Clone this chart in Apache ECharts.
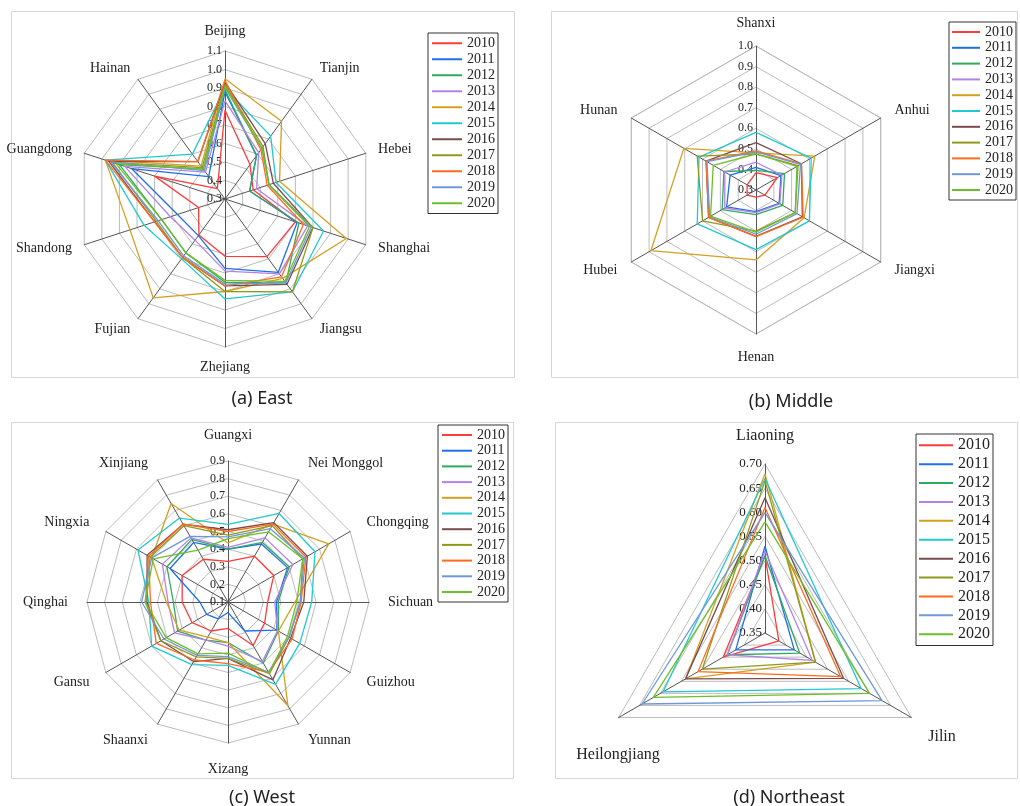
<!DOCTYPE html>
<html><head><meta charset="utf-8">
<script src="https://cdn.jsdelivr.net/npm/echarts@6/dist/echarts.min.js"></script>
<style>html,body{margin:0;padding:0;background:#fff}#c{width:1020px;height:806px}</style>
</head><body><div id="c"></div>
<script>
// ---------------- data ----------------
const years = ['2010','2011','2012','2013','2014','2015','2016','2017','2018','2019','2020'];
const colors = ['#ff3b3b','#1f6fe8','#2eaa5e','#b283e6','#d4a020','#22c8d0','#7a4c4c','#8f9a1c','#ff6a1f','#6e98d8','#6cbf2a'];

// (a) East — clockwise from top
const eastNames = ['Beijing','Tianjin','Hebei','Shanghai','Jiangsu','Zhejiang','Fujian','Shandong','Guangdong','Hainan'];
const east2010 = [0.78,0.53,0.46,0.70,0.685,0.61,0.54,0.45,0.70,0.37];
const east2011 = [0.88,0.59,0.44,0.71,0.79,0.675,0.545,0.57,0.83,0.45];
const east2012 = [0.89,0.59,0.44,0.72,0.86,0.75,0.66,0.66,0.90,0.50];
const east2013 = [0.83,0.61,0.48,0.77,0.80,0.69,0.575,0.61,0.87,0.48];
const east2014 = [0.95,0.82,0.61,0.99,0.83,0.80,0.96,0.84,0.98,0.52];
const east2015 = [0.90,0.72,0.59,0.86,0.92,0.84,0.70,0.76,0.98,0.60];
const east2016 = [0.93,0.67,0.575,0.80,0.87,0.77,0.69,0.70,0.96,0.55];
const east2017 = [0.92,0.65,0.55,0.80,0.92,0.80,0.69,0.69,0.94,0.51];
const east2018 = [0.94,0.63,0.54,0.745,0.82,0.77,0.69,0.70,0.98,0.55];
const east2019 = [0.90,0.64,0.55,0.79,0.86,0.76,0.68,0.68,0.95,0.49];
const east2020 = [0.91,0.64,0.55,0.78,0.85,0.74,0.66,0.66,0.92,0.50];

// (b) Middle
const midNames = ['Shanxi','Anhui','Jiangxi','Henan','Hubei','Hunan'];
const mid2010 = [0.385,0.42,0.35,0.335,0.35,0.35];
const mid2011 = [0.41,0.44,0.43,0.405,0.465,0.445];
const mid2012 = [0.395,0.46,0.45,0.42,0.49,0.48];
const mid2013 = [0.435,0.445,0.434,0.41,0.475,0.475];
const mid2014 = [0.48,0.63,0.57,0.64,0.89,0.705];
const mid2015 = [0.58,0.61,0.60,0.59,0.63,0.62];
const mid2016 = [0.53,0.555,0.56,0.525,0.566,0.58];
const mid2017 = [0.475,0.536,0.52,0.50,0.60,0.63];
const mid2018 = [0.49,0.555,0.565,0.527,0.566,0.58];
const mid2019 = [0.485,0.55,0.53,0.515,0.56,0.575];
const mid2020 = [0.475,0.53,0.52,0.505,0.555,0.54];

// (c) West
const westNames = ['Guangxi','Nei Monggol','Chongqing','Sichuan','Guizhou','Yunnan','Xizang','Shaanxi','Gansu','Qinghai','Ningxia','Xinjiang'];
const west2010 = [0.33,0.40,0.40,0.325,0.34,0.385,0.25,0.29,0.335,0.36,0.40,0.38];
const west2011 = [0.40,0.48,0.49,0.375,0.42,0.29,0.16,0.21,0.24,0.26,0.48,0.49];
const west2012 = [0.40,0.49,0.50,0.385,0.43,0.50,0.33,0.35,0.43,0.41,0.50,0.51];
const west2013 = [0.41,0.52,0.525,0.365,0.425,0.49,0.35,0.35,0.45,0.44,0.53,0.52];
const west2014 = [0.435,0.61,0.76,0.48,0.43,0.78,0.33,0.33,0.42,0.45,0.60,0.745];
const west2015 = [0.54,0.68,0.67,0.575,0.57,0.64,0.46,0.51,0.60,0.55,0.69,0.65];
const west2016 = [0.51,0.62,0.62,0.53,0.51,0.61,0.42,0.49,0.54,0.56,0.63,0.61];
const west2017 = [0.48,0.60,0.59,0.51,0.50,0.57,0.42,0.46,0.54,0.57,0.61,0.60];
const west2018 = [0.50,0.61,0.61,0.515,0.52,0.56,0.45,0.48,0.57,0.54,0.62,0.61];
const west2019 = [0.47,0.58,0.60,0.51,0.50,0.56,0.41,0.45,0.52,0.59,0.60,0.53];
const west2020 = [0.46,0.56,0.59,0.49,0.49,0.565,0.39,0.44,0.505,0.57,0.59,0.44];

// (d) Northeast
const neNames = ['Liaoning','Jilin','Heilongjiang'];
const ne2010 = [0.51,0.383,0.45];
const ne2011 = [0.53,0.42,0.42];
const ne2012 = [0.51,0.433,0.44];
const ne2013 = [0.52,0.463,0.44];
const ne2014 = [0.68,0.471,0.54];
const ne2015 = [0.67,0.58,0.594];
const ne2016 = [0.63,0.538,0.54];
const ne2017 = [0.665,0.471,0.50];
const ne2018 = [0.61,0.531,0.51];
const ne2019 = [0.60,0.63,0.644];
const ne2020 = [0.58,0.60,0.617];

const eastValues = [east2010,east2011,east2012,east2013,east2014,east2015,east2016,east2017,east2018,east2019,east2020];
const midValues = [mid2010,mid2011,mid2012,mid2013,mid2014,mid2015,mid2016,mid2017,mid2018,mid2019,mid2020];
const westValues = [west2010,west2011,west2012,west2013,west2014,west2015,west2016,west2017,west2018,west2019,west2020];
const neValues = [ne2010,ne2011,ne2012,ne2013,ne2014,ne2015,ne2016,ne2017,ne2018,ne2019,ne2020];

// ---------------- build ----------------
const SERIF = '"Liberation Serif","DejaVu Serif",serif';
const ccw = a => [a[0]].concat(a.slice(1).reverse()); // ECharts places indicators counter-clockwise

function makeRadar(cfg) {
  const ind = ccw(cfg.names).map(n => ({ name: n, min: cfg.min, max: cfg.max }));
  ind[0].axisLabel = { show: true };
  return {
    center: cfg.center, radius: cfg.radius, startAngle: 90, shape: 'polygon',
    splitNumber: cfg.split, indicator: ind, nameGap: cfg.nameGap,
    axisName: { show: cfg.showNames !== false, color: '#222', fontFamily: SERIF, fontSize: cfg.nameSize },
    splitLine: { lineStyle: { color: '#bcbcbc', width: 1 } },
    splitArea: { show: false },
    axisLine: { lineStyle: { color: '#555', width: 1 } },
    axisTick: { show: false },
    axisLabel: { show: false, color: '#222', fontFamily: SERIF, fontSize: cfg.labelSize, margin: 3,
      formatter: v => Number(v).toFixed(cfg.dec) }
  };
}
function makeSeries(idx, values) {
  return {
    type: 'radar', radarIndex: idx, symbol: 'none', silent: true,
    data: years.map((y, i) => ({
      name: y, value: ccw(values[i]),
      lineStyle: { color: colors[i], width: 1.3 },
      itemStyle: { color: colors[i] }
    }))
  };
}
function makeLegend(cfg) {
  return {
    orient: 'vertical', left: cfg.left, top: cfg.top, selectedMode: false,
    data: years.map((y, i) => ({ name: y, icon: 'rect', itemStyle: { color: colors[i], borderWidth: 0 } })),
    itemWidth: cfg.itemWidth, itemHeight: 2, itemGap: cfg.gap, padding: cfg.padding,
    borderColor: '#333', borderWidth: 1, backgroundColor: '#fff',
    textStyle: { fontFamily: SERIF, fontSize: cfg.fontSize, lineHeight: cfg.lineHeight, color: '#222' }
  };
}
function caption(text, x, y) {
  return { text: text, left: x, top: y, textAlign: 'center', padding: 0,
    textStyle: { fontFamily: '"Noto Sans","Open Sans",sans-serif', fontSize: 18, fontWeight: 'normal', color: '#222' } };
}
function panel(x, y, w, h) {
  return { type: 'rect', silent: true, z: -1, shape: { x: x + 0.5, y: y + 0.5, width: w, height: h },
    style: { fill: 'none', stroke: '#d6d6d6', lineWidth: 1 } };
}
function nameText(text, x, y) {
  return { type: 'text', silent: true, style: { text: text, x: x, y: y, align: 'center', verticalAlign: 'middle',
    fontFamily: SERIF, fontSize: 16, fill: '#222' } };
}

const option = {
  backgroundColor: '#fff',
  animation: false,
  graphic: [
    panel(11, 11, 503, 366), panel(551, 11, 466, 366), panel(11, 422, 502, 356), panel(555, 422, 462, 356),
    // Northeast indicator names (placed as in the original layout)
    nameText(neNames[0], 765, 436), nameText(neNames[1], 942, 737), nameText(neNames[2], 618, 755)
  ],
  title: [caption('(a) East', 262, 390), caption('(b) Middle', 791, 393), caption('(c) West', 262, 789), caption('(d) Northeast', 789, 789)],
  radar: [
    makeRadar({ names: eastNames, center: [225, 199], radius: 148, min: 0.3, max: 1.1, split: 8, dec: 1, nameGap: 13, nameSize: 14, labelSize: 12 }),
    makeRadar({ names: midNames, center: [756, 190], radius: 144, min: 0.3, max: 1.0, split: 7, dec: 1, nameGap: 16, nameSize: 14, labelSize: 12 }),
    makeRadar({ names: westNames, center: [228, 602], radius: 141, min: 0.1, max: 0.9, split: 8, dec: 1, nameGap: 19, nameSize: 14, labelSize: 12 }),
    makeRadar({ names: neNames, center: [765, 633], radius: 169, min: 0.35, max: 0.70, split: 7, dec: 2, nameGap: 16, nameSize: 16, labelSize: 13, showNames: false })
  ],
  legend: [
    makeLegend({ left: 428, top: 33, itemWidth: 30, gap: 1.5, padding: [3, 3, 3, 4], fontSize: 14, lineHeight: 14.5 }),
    makeLegend({ left: 949, top: 22, itemWidth: 28, gap: 1.8, padding: [3, 3, 3, 3], fontSize: 14, lineHeight: 14 }),
    makeLegend({ left: 438, top: 425, itemWidth: 30, gap: 1.7, padding: [3, 3, 3, 4], fontSize: 14, lineHeight: 13.8 }),
    makeLegend({ left: 916, top: 434, itemWidth: 34, gap: 2.4, padding: [3, 3, 3, 3], fontSize: 16, lineHeight: 16.5 })
  ],
  series: [makeSeries(0, eastValues), makeSeries(1, midValues), makeSeries(2, westValues), makeSeries(3, neValues)]
};
const chart = echarts.init(document.getElementById('c'), null, { renderer: 'canvas' });
chart.setOption(option);
</script></body></html>
